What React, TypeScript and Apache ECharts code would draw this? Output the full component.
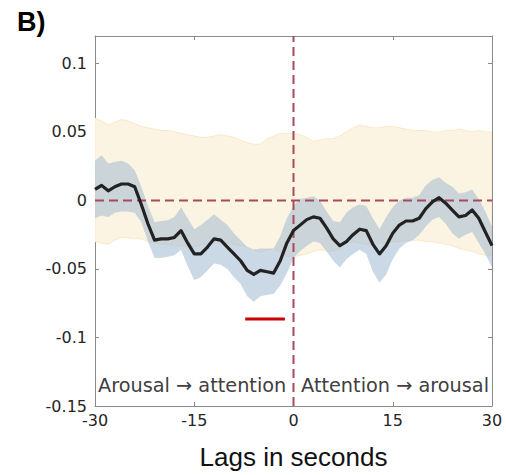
import React, { useEffect, useRef } from "react";
import * as echarts from "echarts";

const lags = [-30,-29,-28,-27,-26,-25,-24,-23,-22,-21,-20,-19,-18,-17,-16,-15,-14,-13,-12,-11,-10,-9,-8,-7,-6,-5,-4,-3,-2,-1,0,1,2,3,4,5,6,7,8,9,10,11,12,13,14,15,16,17,18,19,20,21,22,23,24,25,26,27,28,29,30];

const meanCorr = [0.008,0.011,0.007,0.010,0.012,0.012,0.010,-0.003,-0.017,-0.029,-0.028,-0.028,-0.027,-0.022,-0.031,-0.039,-0.039,-0.034,-0.028,-0.029,-0.034,-0.039,-0.044,-0.051,-0.054,-0.051,-0.052,-0.053,-0.044,-0.031,-0.022,-0.018,-0.014,-0.012,-0.013,-0.020,-0.028,-0.033,-0.030,-0.025,-0.021,-0.022,-0.032,-0.039,-0.033,-0.024,-0.018,-0.015,-0.015,-0.013,-0.006,-0.001,0.002,-0.002,-0.007,-0.012,-0.011,-0.007,-0.013,-0.023,-0.033];

const semUpper = [0.029,0.033,0.027,0.028,0.029,0.027,0.022,0.010,-0.004,-0.016,-0.015,-0.0145,-0.012,-0.005,-0.013,-0.021,-0.018,-0.014,-0.010,-0.014,-0.018,-0.024,-0.029,-0.034,-0.036,-0.035,-0.035,-0.035,-0.026,-0.013,-0.004,0.001,0.002,0.003,0.000,-0.008,-0.015,-0.016,-0.009,-0.005,-0.003,-0.004,-0.013,-0.021,-0.012,-0.005,0.000,0.002,0.002,0.004,0.011,0.015,0.017,0.013,0.010,0.005,0.006,0.008,0.001,-0.008,-0.019];

const semLower = [-0.013,-0.011,-0.012,-0.009,-0.008,-0.008,-0.009,-0.016,-0.030,-0.042,-0.042,-0.041,-0.040,-0.036,-0.048,-0.058,-0.056,-0.051,-0.046,-0.047,-0.050,-0.056,-0.061,-0.070,-0.074,-0.070,-0.069,-0.068,-0.062,-0.053,-0.042,-0.037,-0.033,-0.030,-0.031,-0.037,-0.044,-0.049,-0.043,-0.039,-0.036,-0.039,-0.052,-0.060,-0.054,-0.043,-0.035,-0.031,-0.029,-0.025,-0.019,-0.014,-0.012,-0.017,-0.024,-0.028,-0.025,-0.023,-0.031,-0.039,-0.049];

const nullUpper = [0.060,0.058,0.055,0.057,0.059,0.058,0.056,0.054,0.053,0.052,0.051,0.051,0.050,0.049,0.048,0.047,0.046,0.046,0.047,0.048,0.047,0.046,0.044,0.042,0.041,0.041,0.045,0.047,0.049,0.049,0.049,0.048,0.046,0.043,0.044,0.045,0.045,0.047,0.050,0.053,0.055,0.054,0.053,0.053,0.054,0.054,0.053,0.052,0.051,0.051,0.051,0.050,0.050,0.051,0.051,0.052,0.051,0.050,0.051,0.050,0.050];

const nullLower = [-0.030,-0.031,-0.032,-0.029,-0.027,-0.027,-0.028,-0.028,-0.030,-0.031,-0.032,-0.032,-0.033,-0.033,-0.034,-0.034,-0.032,-0.031,-0.030,-0.030,-0.031,-0.032,-0.033,-0.034,-0.036,-0.038,-0.036,-0.035,-0.038,-0.041,-0.041,-0.040,-0.039,-0.037,-0.036,-0.037,-0.037,-0.035,-0.031,-0.030,-0.031,-0.032,-0.032,-0.031,-0.031,-0.030,-0.030,-0.029,-0.029,-0.029,-0.030,-0.030,-0.031,-0.032,-0.033,-0.035,-0.036,-0.037,-0.039,-0.040,-0.040];

const sigStart = -7.3;
const sigEnd = -1.3;
const sigLevel = -0.0865;

const xTicks = [-30, -15, 0, 15, 30];
const yTicks = [-0.15, -0.1, -0.05, 0, 0.05, 0.1];
const yTop = 0.12;

const FONT = "'Liberation Sans', Arial, Helvetica, sans-serif";
const WIDE = "'DejaVu Sans', sans-serif";

function bandSeries(upper: number[], lower: number[], fill: string, opacity: number, stroke: string | null, z: number) {
  return {
    type: "custom",
    coordinateSystem: "cartesian2d",
    data: lags.map((x, i) => [x, upper[i]]),
    encode: { x: 0, y: 1 },
    clip: true,
    z,
    renderItem: (params: any, api: any) => {
      if (params.dataIndex !== 0) return null;
      const pts: number[][] = [];
      for (let i = 0; i < lags.length; i++) pts.push(api.coord([lags[i], upper[i]]));
      for (let i = lags.length - 1; i >= 0; i--) pts.push(api.coord([lags[i], lower[i]]));
      return {
        type: "polygon",
        shape: { points: pts },
        style: {
          fill,
          opacity,
          stroke: stroke || "none",
          lineWidth: stroke ? 1 : 0,
        },
      };
    },
  };
}

export default function App() {
  const ref = useRef<HTMLDivElement>(null);
  useEffect(() => {
    if (!ref.current) return;
    const chart = echarts.init(ref.current, undefined, { renderer: "svg" });
    const pair = (ys: number[]) => lags.map((x, i) => [x, ys[i]]);
    const axisGrey = "#8a8a8a";
    const dashCol = "#a8495f";
    const xBase = {
      type: "value" as const,
      min: xTicks[0],
      max: xTicks[xTicks.length - 1],
      interval: 15,
      splitLine: { show: false },
      axisLine: { show: true, onZero: false, lineStyle: { color: axisGrey, width: 1 } },
      axisTick: { show: true, inside: true, length: 4, lineStyle: { color: axisGrey } },
    };
    const yBase = {
      type: "value" as const,
      min: yTicks[0],
      max: yTop,
      interval: 0.05,
      splitLine: { show: false },
      axisLine: { show: true, onZero: false, lineStyle: { color: axisGrey, width: 1 } },
      axisTick: { show: true, inside: true, length: 4, lineStyle: { color: axisGrey } },
    };
    chart.setOption({
      animation: false,
      grid: { left: 95, right: 14, top: 36, bottom: 69, containLabel: false },
      xAxis: [
        {
          ...xBase,
          position: "bottom",
          axisLabel: { fontFamily: WIDE, fontSize: 16, color: "#262626", margin: 6 },
          name: "Lags in seconds",
          nameLocation: "middle",
          nameGap: 38,
          nameTextStyle: { fontFamily: FONT, fontSize: 26, color: "#111" },
        },
        { ...xBase, position: "top", axisLabel: { show: false } },
      ],
      yAxis: [
        {
          ...yBase,
          position: "left",
          axisLabel: {
            fontFamily: WIDE,
            fontSize: 16,
            color: "#262626",
            margin: 8,
            showMaxLabel: false,
            formatter: (v: number) => String(Math.round(v * 100) / 100),
          },
        },
        { ...yBase, position: "right", axisLabel: { show: false } },
      ],
      graphic: [
        {
          type: "text",
          left: 17,
          top: 8,
          z: 100,
          style: { text: "B)", fontFamily: FONT, fontSize: 27, fontWeight: "bold", fill: "#000" },
        },
        {
          type: "text",
          x: 98,
          y: 385,
          z: 100,
          style: {
            text: "Arousal → attention",
            fontFamily: WIDE,
            fontSize: 19.3,
            fill: "#404040",
            textVerticalAlign: "middle",
            textAlign: "left",
          },
        },
        {
          type: "text",
          x: 489,
          y: 385,
          z: 100,
          style: {
            text: "Attention → arousal",
            fontFamily: WIDE,
            fontSize: 19.3,
            fill: "#404040",
            textVerticalAlign: "middle",
            textAlign: "right",
          },
        },
      ],
      series: [
        bandSeries(nullUpper, nullLower, "#fcf4e2", 1, "#fbe8c6", 1),
        bandSeries(semUpper, semLower, "rgb(160,185,210)", 0.55, null, 2),
        {
          type: "line",
          data: [[xTicks[0], 0], [xTicks[xTicks.length - 1], 0]],
          symbol: "none",
          lineStyle: { color: dashCol, width: 2, type: [9, 5] },
          z: 4,
        },
        {
          type: "line",
          data: [[0, yTicks[0]], [0, yTop]],
          symbol: "none",
          lineStyle: { color: dashCol, width: 2, type: [9, 5] },
          z: 4,
        },
        {
          type: "line",
          data: pair(meanCorr),
          symbol: "none",
          lineStyle: { color: "#222222", width: 3.2, join: "round" },
          z: 5,
        },
        {
          type: "line",
          data: [[sigStart, sigLevel], [sigEnd, sigLevel]],
          symbol: "none",
          lineStyle: { color: "#cc0000", width: 3 },
          z: 5,
        },
      ],
    });
    return () => chart.dispose();
  }, []);
  return <div ref={ref} style={{ width: 506, height: 475, position: "absolute", left: 0, top: 0 }} />;
}
